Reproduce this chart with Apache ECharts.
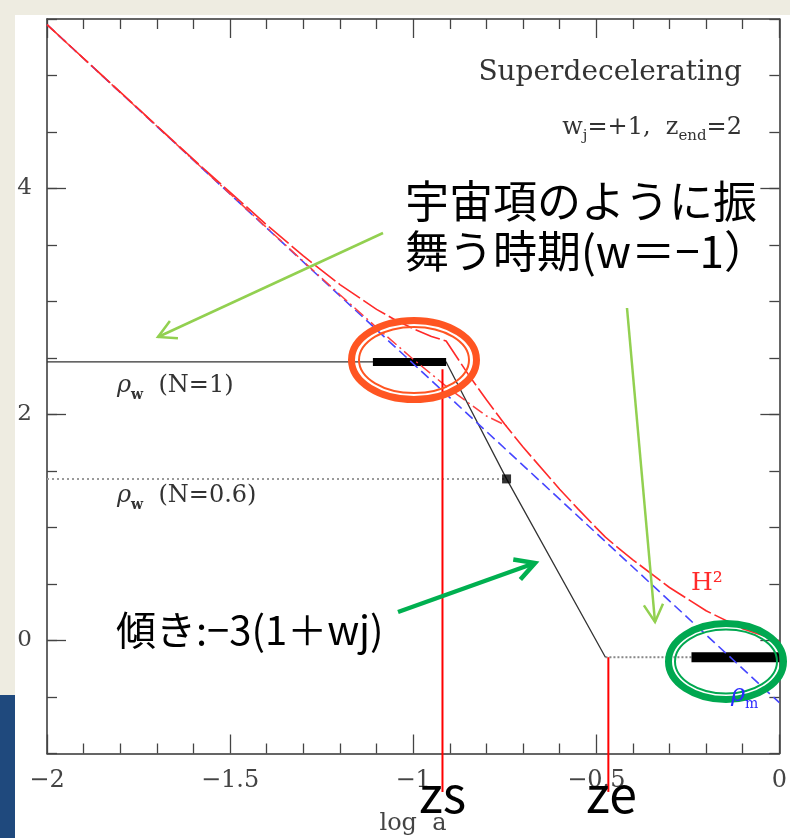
<!DOCTYPE html>
<html>
<head>
<meta charset="utf-8">
<script src="https://cdn.jsdelivr.net/npm/echarts@6/dist/echarts.min.js"></script>
<style>
html, body { margin: 0; padding: 0; background: #EEECE1; }
#paper { position: absolute; left: 15px; top: 15px; width: 775px; height: 823px; background: #fff; }
#slide { position: absolute; left: 0; top: 695px; width: 15px; height: 143px; background: #1F497D; }
#main { position: absolute; left: 0; top: 0; width: 790px; height: 838px; }
</style>
</head>
<body>
<div id="paper"></div>
<div id="slide"></div>
<div id="main"></div>
<script>
// values: x = log a, y = log density
const rhoM = [[-2, 5.45], [0, -0.55]];
const h2N1 = [[-2, 5.45], [-1.6, 4.257], [-1.4, 3.678], [-1.3, 3.403], [-1.2, 3.15], [-1.1, 2.93],
    [-1.05, 2.839], [-1.0, 2.76], [-0.95, 2.691], [-0.91, 2.65], [-0.85, 2.357], [-0.8, 2.13],
    [-0.75, 1.914], [-0.7, 1.712], [-0.6, 1.339], [-0.55, 1.165], [-0.5, 0.997], [-0.475, 0.915],
    [-0.45, 0.846], [-0.4, 0.714], [-0.3, 0.469], [-0.2, 0.263], [-0.1, 0.104], [0, -0.004]];
const h2N06 = [[-2, 5.45], [-1.4, 3.653], [-1.3, 3.355], [-1.2, 3.06], [-1.1, 2.77], [-1.0, 2.489],
    [-0.9, 2.224], [-0.8, 1.987], [-0.745, 1.90]];
const rhoW1 = [[-2, 2.465], [-0.91, 2.465], [-0.745, 1.43], [-0.475, -0.148]];
const rhoW06 = [[-2, 1.43], [-0.745, 1.43]];
const rhoW06Mark = [[-0.745, 1.43]];
const tailLevel = [[-0.475, -0.148], [0, -0.148]];
const barStart = [[-1.11, 2.465], [-0.91, 2.465]];
const barEnd = [[-0.24, -0.148], [0, -0.148]];
const zsLine = [[-0.92, 2.40], [-0.92, -1.34]];
const zeLine = [[-0.467, -0.148], [-0.467, -1.34]];
const yLabelValues = [0, 2, 4];

const serif = 'DejaVu Serif';
const jp = 'Noto Sans CJK JP';
const chart = echarts.init(document.getElementById('main'));

function ln(data, color, width, type, extra) {
    return Object.assign({
        type: 'line', data: data, symbol: 'none', silent: true, z: 3,
        lineStyle: { color: color, width: width, type: type, cap: 'butt' }
    }, extra || {});
}

const tickStyle = { color: '#444', width: 1.3 };
function xAx(pos, label) {
    return {
        type: 'value', min: -2, max: 0, interval: 0.5, position: pos,
        axisLine: { onZero: false, lineStyle: { color: '#333', width: 1.5 } },
        axisTick: { inside: true, length: 19, lineStyle: tickStyle },
        minorTick: { show: true, splitNumber: 5, length: 10, lineStyle: tickStyle },
        splitLine: { show: false },
        axisLabel: {
            show: label, margin: 15, fontFamily: serif, fontSize: 24, color: '#444',
            formatter: v => String(v).replace('-', '\u2212')
        }
    };
}
function yAx(pos, major, label) {
    const ax = {
        type: 'value', min: -1, max: 5.5, position: pos, splitLine: { show: false },
        axisLine: { show: !major, onZero: false, lineStyle: { color: '#333', width: 1.5 } },
        axisTick: { inside: true, length: major ? 19 : 10, lineStyle: tickStyle },
        axisLabel: {
            show: label, margin: 15, fontFamily: serif, fontSize: 23, color: '#444',
            formatter: v => (yLabelValues.indexOf(v) >= 0 ? String(v) : '')
        }
    };
    if (major) {
        ax.axisTick.customValues = yLabelValues;
        ax.axisLabel.show = false;
    } else {
        ax.interval = 0.5;
    }
    return ax;
}

chart.setOption({
    animation: false,
    grid: { left: 47, top: 19, right: 8.5, bottom: 84.5 },
    xAxis: [xAx('bottom', true), xAx('top', false)],
    yAxis: [yAx('left', false, true), yAx('left', true, false), yAx('right', false, false), yAx('right', true, false)],
    series: [
        ln(rhoW06, '#9a9a9a', 2, [2, 3]),
        ln(tailLevel, '#888', 2, [2, 2]),
        ln(rhoW1, '#333', 1.3, 'solid'),
        ln(barStart, '#000', 8, 'solid'),
        ln(barEnd, '#000', 10, 'solid'),
        ln(rhoM, '#4646ff', 1.6, [10, 5]),
        ln(h2N06, '#ff4040', 1.5, [12, 4, 2, 4]),
        ln(h2N1, '#ff2a2a', 1.6, [26, 4]),
        ln(zsLine, '#ff0000', 2, 'solid', { clip: false }),
        ln(zeLine, '#ff0000', 2, 'solid', { clip: false }),
        { type: 'scatter', data: rhoW06Mark, symbol: 'rect', symbolSize: 9, itemStyle: { color: '#000' }, z: 4, silent: true }
    ]
});

// annotation shapes of the slide
function arrow(x1, y1, x2, y2, color, width, head) {
    const a = Math.atan2(y2 - y1, x2 - x1);
    const s = 0.5;
    return [
        { type: 'polyline', z: 100, shape: { points: [[x1, y1], [x2, y2]] }, style: { stroke: color, lineWidth: width, fill: null } },
        { type: 'polyline', z: 100, shape: { points: [
            [x2 - head * Math.cos(a - s), y2 - head * Math.sin(a - s)], [x2, y2],
            [x2 - head * Math.cos(a + s), y2 - head * Math.sin(a + s)]] },
          style: { stroke: color, lineWidth: width, fill: null, lineJoin: 'miter' } }
    ];
}
function ring(cx, cy, rx, ry, color, w) {
    return { type: 'ellipse', z: 100, shape: { cx: cx, cy: cy, rx: rx, ry: ry }, style: { stroke: color, lineWidth: w, fill: null } };
}
function txt(text, x, y, font, fill, align, rich) {
    const st = { text: text, x: x, y: y, font: font, fill: fill, align: align || 'left', verticalAlign: 'middle' };
    if (rich) st.rich = rich;
    return { type: 'text', z: 101, style: st };
}
const subRich = {
    n: { fontFamily: serif, fontSize: 24, lineHeight: 32, verticalAlign: 'middle', fill: '#333' },
    m: { fontFamily: serif, fontSize: 24, lineHeight: 32, verticalAlign: 'middle', fill: '#333' },
    r: { fontFamily: serif, fontSize: 24, fontStyle: 'italic', lineHeight: 32, verticalAlign: 'middle', fill: '#333' },
    s: { fontFamily: serif, fontSize: 15, lineHeight: 32, verticalAlign: 'bottom', fill: '#333' },
    b: { fontFamily: serif, fontSize: 14, fontWeight: 'bold', lineHeight: 32, verticalAlign: 'bottom', fill: '#333' },
    rb: { fontFamily: serif, fontSize: 24, fontStyle: 'italic', lineHeight: 32, verticalAlign: 'middle', fill: '#2a2aff' },
    sb: { fontFamily: serif, fontSize: 14, lineHeight: 32, verticalAlign: 'bottom', fill: '#2a2aff' }
};

const g = [].concat(
    [
        txt('Superdecelerating', 742, 73, '28px ' + serif, '#333', 'right'),
        txt('{m|w}{s|j}{m|=+1,  z}{s|end}{m|=2}', 742, 128, '24px ' + serif, '#333', 'right', subRich),
        txt('{r|\u03c1}{b|w}{n|  (N=1)}', 117, 386, '24px ' + serif, '#333', 'left', subRich),
        txt('{r|\u03c1}{b|w}{n|  (N=0.6)}', 117, 496, '24px ' + serif, '#333', 'left', subRich),
        txt('H\u00b2', 691, 583, '25px ' + serif, '#ff2a2a'),
        txt('{rb|\u03c1}{sb|m}', 731, 695, '24px ' + serif, '#2a2aff', 'left', subRich),
        txt('log  a', 413, 824, '24px ' + serif, '#444', 'center'),
        txt('宇宙項のように振', 405, 201, '44px ' + jp, '#000'),
        txt('舞う時期(w＝\u22121）', 405, 251, '44px ' + jp, '#000'),
        txt('傾き:\u22123(1＋wj)', 116, 630, '40px ' + jp, '#000'),
        txt('zs', 419, 794, '50px ' + jp, '#000'),
        txt('ze', 586, 794, '50px ' + jp, '#000'),
        ring(414, 360, 62.5, 39.5, '#FF5522', 7),
        ring(414, 360, 55, 33, '#FF5522', 2),
        ring(726, 661.5, 57.5, 38, '#00A850', 7),
        ring(726, 661.5, 51, 32, '#00A850', 2)
    ],
    arrow(383, 233, 158, 337, '#92D050', 2.5, 20),
    arrow(627, 308, 655, 622, '#92D050', 2.5, 20),
    arrow(398, 612, 535, 563, '#00B050', 4.5, 22)
);
chart.setOption({ graphic: g });
window.addEventListener('resize', () => chart.resize());
</script>
</body>
</html>
